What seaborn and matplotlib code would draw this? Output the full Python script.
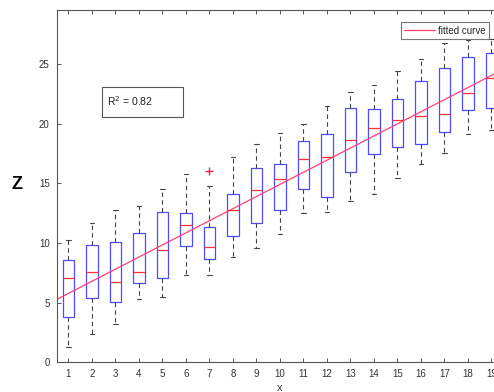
import numpy as np
import pandas as pd
import matplotlib
matplotlib.use("Agg")
import matplotlib.pyplot as plt
from matplotlib.patches import Rectangle
import seaborn as sns

# box summaries (x = 1..19)
x_vals = list(range(1, 20))
z_low = [1.3, 2.4, 3.25, 5.3, 5.45, 7.3, 7.3, 8.85, 9.6, 10.75, 12.5, 12.57, 13.5, 14.1, 15.42, 16.6, 17.57, 19.14, 19.47]
z_q1 = [3.8, 5.4, 5.05, 6.65, 7.07, 9.75, 8.63, 10.6, 11.65, 12.77, 14.5, 13.88, 15.93, 17.43, 18.05, 18.27, 19.28, 21.15, 21.3]
z_med = [7.1, 7.6, 6.7, 7.6, 9.4, 11.5, 9.7, 12.77, 14.4, 15.35, 17.07, 17.18, 18.63, 19.64, 20.3, 20.6, 20.8, 22.55, 23.8]
z_q3 = [8.55, 9.8, 10.05, 10.8, 12.57, 12.55, 11.3, 14.1, 16.25, 16.6, 18.55, 19.1, 21.35, 21.26, 22.07, 23.55, 24.7, 25.6, 25.95]
z_high = [10.25, 11.7, 12.75, 13.1, 14.5, 15.8, 14.8, 17.2, 18.27, 19.2, 19.97, 21.5, 22.63, 23.27, 24.44, 25.4, 26.8, 27.0, 27.1]

# outliers
out_x = [7]
out_z = [16.0]

# fitted line
fit_intercept = 4.76
fit_slope = 1.015
fit_x = np.array([0.5, 19.5])
fit_z = fit_intercept + fit_slope * fit_x

r2_text = "R$^2$ = 0.82"

sns.set_style("ticks")
plt.rcParams["font.family"] = ["Liberation Sans", "DejaVu Sans"]

rows = []
for i, xv in enumerate(x_vals):
    for v in (z_low[i], z_q1[i], z_med[i], z_q3[i], z_high[i]):
        rows.append({"x": xv, "z": v})
df = pd.DataFrame(rows)

fig = plt.figure(figsize=(4.94, 3.92), dpi=100)
ax = fig.add_axes([56.7 / 494, 29.7 / 392, 446.5 / 494, 352 / 392])

sns.boxplot(
    data=df, x="x", y="z", native_scale=True, width=0.5, whis=(0, 100),
    fill=False, ax=ax, capwidths=0.2,
    boxprops=dict(color="#4d4dff", linewidth=0.9),
    medianprops=dict(color="#ff3030", linewidth=0.9),
    whiskerprops=dict(color="#444444", linewidth=0.8, linestyle=(0, (4, 3))),
    capprops=dict(color="#444444", linewidth=0.8),
)

sns.scatterplot(x=out_x, y=out_z, marker="+", color="#ff2040", s=40,
                linewidth=1.0, ax=ax, legend=False)

sns.lineplot(x=fit_x, y=fit_z, color="#ff4070", linewidth=0.9,
             label="fitted curve", ax=ax)

ax.set_xlim(0.5, 19.5)
ax.set_ylim(0, 29.5)
ax.set_xticks(x_vals)
ax.set_xticklabels([str(v) for v in x_vals])
ax.set_yticks([0, 5, 10, 15, 20, 25])

for s in ax.spines.values():
    s.set_visible(True)
    s.set_color("#555555")
    s.set_linewidth(0.8)

ax.tick_params(direction="in", length=3, width=0.7, color="#555555",
               labelsize=7, labelcolor="#333333", top=True, right=True, pad=5)

ax.set_xlabel("x", fontsize=8, color="#333333", labelpad=3)
ax.set_ylabel("Z", fontsize=13, fontweight="bold", rotation=0, color="black")
ax.yaxis.set_label_coords(-0.089, 0.481)

leg = ax.legend(loc="upper right", bbox_to_anchor=(489 / 494, 1 - 22.3 / 392),
                bbox_transform=fig.transFigure, fontsize=7, frameon=True,
                fancybox=False, handlelength=3.2, borderpad=0.35,
                handletextpad=0.3, borderaxespad=0)
leg.get_frame().set_edgecolor("#555555")
leg.get_frame().set_linewidth(0.8)

# R^2 annotation box
fig.patches.append(Rectangle((102.3 / 494, 1 - 117.3 / 392), 80.4 / 494, 30 / 392,
                             transform=fig.transFigure, fill=False,
                             edgecolor="#555555", linewidth=0.8))
fig.text(106.5 / 494, 1 - 101 / 392, r2_text, fontsize=7.5, color="#222222",
         ha="left", va="center")

fig.savefig("out.png", dpi=100)
plt.close()
